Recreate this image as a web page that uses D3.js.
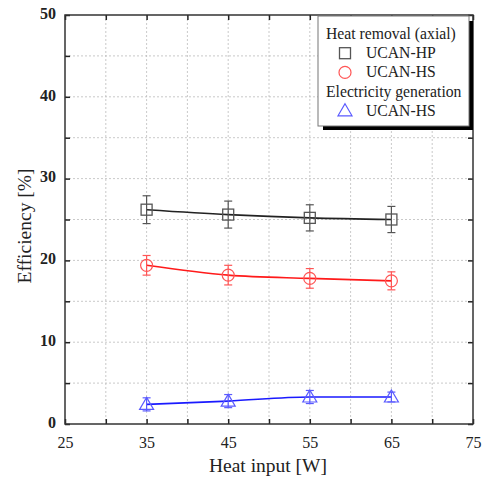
<!DOCTYPE html>
<html lang="en">
<head>
  <meta charset="UTF-8">
  <title>Efficiency vs heat input</title>
  <style>
    body { margin: 0; background: #fff; }
    svg text { font-family: "Liberation Serif", "DejaVu Serif", serif; fill: #222; }
  </style>
</head>
<body>
  <svg id="chart" width="483" height="478"></svg>

  <script src="https://d3js.org/d3.v7.min.js"></script>
  <script>
    // data
    const heatInput = [35, 45, 55, 65];
    const hpValues = [26.2, 25.6, 25.2, 25.0];
    const hpErr = [1.7, 1.65, 1.6, 1.6];
    const hsValues = [19.4, 18.2, 17.8, 17.5];
    const hsErr = [1.2, 1.2, 1.2, 1.1];
    const elecValues = [2.4, 2.8, 3.3, 3.3];
    const elecErr = [0.8, 0.8, 0.8, 0.6];
    const xTicks = [25, 35, 45, 55, 65, 75];
    const yTicks = [0, 10, 20, 30, 40, 50];

    const svg = d3.select('#chart');
    const plotL = 65, plotR = 473, plotT = 15, plotB = 424;

    const x = d3.scaleLinear().domain([25, 75]).range([plotL, plotR]);
    const y = d3.scaleLinear().domain([0, 50]).range([plotB, plotT]);

    // dotted grid every 5
    const grid = svg.append('g').attr('stroke', '#bbb').attr('stroke-dasharray', '2,2').attr('stroke-width', 0.8);
    d3.range(30, 75, 5).forEach(v => {
      grid.append('line').attr('x1', x(v)).attr('x2', x(v)).attr('y1', plotT).attr('y2', plotB);
    });
    d3.range(5, 50, 5).forEach(v => {
      grid.append('line').attr('x1', plotL).attr('x2', plotR).attr('y1', y(v)).attr('y2', y(v));
    });

    // axes with inward ticks on all four sides
    const axisStyle = g => {
      g.select('.domain').remove();
      g.selectAll('line').attr('stroke', '#222').attr('stroke-width', 1.5);
    };
    const minorX = d3.range(25, 80, 5);
    const minorY = d3.range(0, 55, 5);
    svg.append('g').attr('transform', `translate(0,${plotB})`)
      .call(d3.axisBottom(x).tickValues(minorX).tickSize(-5).tickFormat('')).call(axisStyle);
    svg.append('g').attr('transform', `translate(0,${plotT})`)
      .call(d3.axisTop(x).tickValues(minorX).tickSize(-5).tickFormat('')).call(axisStyle);
    svg.append('g').attr('transform', `translate(${plotL},0)`)
      .call(d3.axisLeft(y).tickValues(minorY).tickSize(-5).tickFormat('')).call(axisStyle);
    svg.append('g').attr('transform', `translate(${plotR},0)`)
      .call(d3.axisRight(y).tickValues(minorY).tickSize(-5).tickFormat('')).call(axisStyle);

    // tick labels
    const xl = svg.append('g').attr('transform', `translate(0,${plotB})`)
      .call(d3.axisBottom(x).tickValues(xTicks).tickSize(0).tickPadding(10));
    xl.select('.domain').remove();
    xl.selectAll('text').attr('font-size', 16).attr('font-family', 'Liberation Serif').attr('fill', '#222').attr('dy', '0.85em');
    const yl = svg.append('g').attr('transform', `translate(${plotL},0)`)
      .call(d3.axisLeft(y).tickValues(yTicks).tickSize(0).tickPadding(9));
    yl.select('.domain').remove();
    yl.selectAll('text').attr('font-size', 16).attr('font-family', 'Liberation Serif').attr('fill', '#222')
      .attr('font-weight', 'bold').attr('dy', '0.2em');

    // frame
    svg.append('rect').attr('x', plotL).attr('y', plotT).attr('width', plotR - plotL).attr('height', plotB - plotT)
      .attr('fill', 'none').attr('stroke', '#333').attr('stroke-width', 1.5);

    // axis titles
    svg.append('text').attr('x', 268).attr('y', 472).attr('text-anchor', 'middle')
      .attr('font-size', 19.5).text('Heat input [W]');
    svg.append('text').attr('transform', 'translate(31,226) rotate(-90)')
      .attr('text-anchor', 'middle').attr('font-size', 19.5).text('Efficiency [%]');

    const line = d3.line().x((d, i) => x(heatInput[i])).y(d => y(d)).curve(d3.curveMonotoneX);

    function drawSeries(values, errs, lineColor, markColor, shape) {
      const g = svg.append('g');
      g.append('path').datum(values).attr('d', line).attr('fill', 'none')
        .attr('stroke', lineColor).attr('stroke-width', 1.6);
      values.forEach((v, i) => {
        const cx = x(heatInput[i]);
        const eb = g.append('g').attr('stroke', markColor).attr('stroke-width', 1.2);
        eb.append('line').attr('x1', cx).attr('x2', cx).attr('y1', y(v + errs[i])).attr('y2', y(v - errs[i]));
        eb.append('line').attr('x1', cx - 4).attr('x2', cx + 4).attr('y1', y(v + errs[i])).attr('y2', y(v + errs[i]));
        eb.append('line').attr('x1', cx - 4).attr('x2', cx + 4).attr('y1', y(v - errs[i])).attr('y2', y(v - errs[i]));
        drawMarker(g, shape, cx, y(v), markColor);
      });
    }

    function drawMarker(g, shape, cx, cy, color) {
      if (shape === 'square') {
        g.append('rect').attr('x', cx - 5.5).attr('y', cy - 5.5).attr('width', 11).attr('height', 11)
          .attr('fill', 'none').attr('stroke', color).attr('stroke-width', 1.3);
      } else if (shape === 'circle') {
        g.append('circle').attr('cx', cx).attr('cy', cy).attr('r', 6)
          .attr('fill', 'none').attr('stroke', color).attr('stroke-width', 1.2);
      } else {
        g.append('path').attr('d', `M${cx},${cy - 7}L${cx + 7},${cy + 5}L${cx - 7},${cy + 5}Z`)
          .attr('fill', 'none').attr('stroke', color).attr('stroke-width', 1.2);
      }
    }

    drawSeries(hpValues, hpErr, '#222', '#555', 'square');
    drawSeries(hsValues, hsErr, '#ff1a1a', '#ff5555', 'circle');
    drawSeries(elecValues, elecErr, '#1a1aff', '#5a5aff', 'triangle');

    // legend with drop shadow
    const lg = svg.append('g');
    lg.append('rect').attr('x', 323).attr('y', 21).attr('width', 150).attr('height', 109).attr('fill', '#000');
    lg.append('rect').attr('x', 318).attr('y', 16).attr('width', 151).attr('height', 110)
      .attr('fill', '#fff').attr('stroke', '#777').attr('stroke-width', 1);
    const legendRows = [
      { type: 'head', label: 'Heat removal (axial)' },
      { type: 'square', label: 'UCAN-HP', color: '#555' },
      { type: 'circle', label: 'UCAN-HS', color: '#ff5555' },
      { type: 'head', label: 'Electricity generation' },
      { type: 'triangle', label: 'UCAN-HS', color: '#5a5aff' }
    ];
    legendRows.forEach((r, i) => {
      const ly = 39 + i * 19.2;
      if (r.type === 'head') {
        lg.append('text').attr('x', 326).attr('y', ly).attr('font-size', 15.7).text(r.label);
      } else {
        drawMarker(lg, r.type, 345, ly - 5, r.color);
        lg.append('text').attr('x', 366).attr('y', ly).attr('font-size', 15.7).text(r.label);
      }
    });
  </script>
</body>
</html>
